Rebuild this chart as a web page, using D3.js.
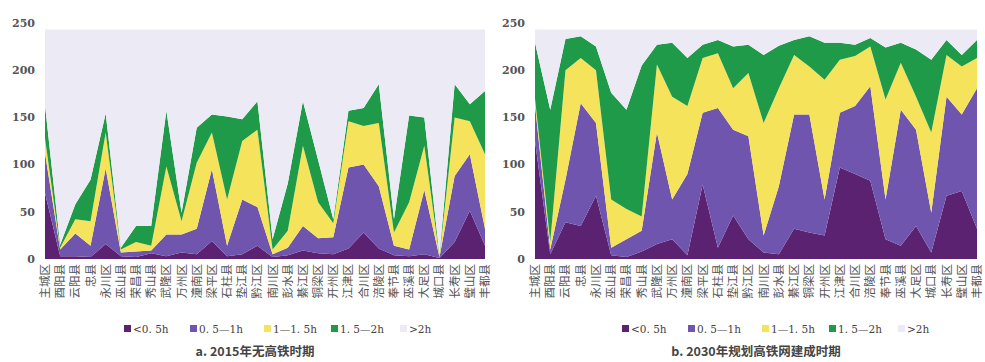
<!DOCTYPE html>
<html>
<head>
<meta charset="utf-8">
<script src="https://cdn.jsdelivr.net/npm/d3@7/dist/d3.min.js"></script>
<style>
  body { margin: 0; background: #fff; }
  svg { display: block; }
</style>
</head>
<body>
<svg id="chart" width="985" height="362"></svg>
<script>
const districts = [
  '主城区', '酉阳县', '云阳县', '忠县', '永川区', '巫山县', '荣昌县', '秀山县',
  '武隆区', '万州区', '潼南区', '梁平区', '石柱县', '垫江县', '黔江区', '南川区',
  '彭水县', '綦江区', '铜梁区', '开州区', '江津区', '合川区', '涪陵区', '奉节县',
  '巫溪县', '大足区', '城口县', '长寿区', '璧山区', '丰都县'
];
const seriesKeys = ['<0.5h', '0.5-1h', '1-1.5h', '1.5-2h', '>2h'];
const legendLabels = ['<0. 5h', '0. 5—1h', '1—1. 5h', '1. 5—2h', '>2h'];
const colors = ['#5c2272', '#6f55ad', '#f6e35c', '#1f9a48', '#ecebf5'];
const yTicks = [0, 50, 100, 150, 200, 250];

// a. 2015, no high speed rail
const a_lt05 = [70, 3, 3, 2, 16, 3, 2, 6, 3, 7, 5, 19, 3, 5, 14, 2, 4, 9, 6, 5, 11, 28, 11, 4, 3, 5, 1, 18, 51, 14];
const a_05_1 = [42, 7, 24, 12, 80, 4, 6, 3, 23, 19, 27, 76, 11, 58, 41, 3, 8, 26, 16, 18, 86, 72, 66, 10, 7, 68, 1, 70, 60, 18];
const a_1_15 = [16, 2, 15, 26, 38, 3, 10, 5, 72, 14, 70, 39, 49, 62, 82, 5, 18, 85, 38, 15, 49, 41, 67, 14, 50, 47, 1, 62, 35, 79];
const a_15_2 = [35, 3, 16, 44, 20, 2, 17, 21, 59, 9, 37, 19, 88, 23, 30, 11, 50, 47, 45, 4, 11, 19, 41, 14, 92, 30, 1, 35, 18, 67];
const a_gt2 = [80, 228, 185, 159, 89, 231, 208, 208, 86, 194, 104, 90, 92, 95, 76, 222, 163, 76, 138, 201, 86, 83, 58, 201, 91, 93, 239, 58, 79, 65];

// b. 2030, planned network built
const b_lt05 = [125, 5, 39, 35, 67, 4, 2, 8, 16, 21, 4, 79, 12, 46, 21, 7, 5, 32, 28, 25, 97, 90, 83, 21, 14, 35, 7, 67, 72, 32];
const b_05_1 = [38, 5, 45, 130, 77, 8, 19, 22, 118, 42, 86, 76, 148, 91, 109, 18, 72, 121, 125, 38, 58, 72, 100, 42, 144, 102, 42, 105, 81, 149];
const b_1_15 = [7, 8, 116, 48, 56, 51, 32, 15, 72, 109, 72, 58, 58, 44, 67, 119, 104, 63, 51, 127, 56, 53, 42, 106, 50, 35, 85, 44, 51, 32];
const b_15_2 = [59, 140, 33, 23, 25, 113, 105, 160, 21, 57, 51, 14, 14, 44, 30, 72, 45, 16, 32, 39, 18, 12, 9, 55, 21, 50, 77, 16, 12, 19];
const b_gt2 = [14, 85, 10, 7, 18, 67, 85, 38, 16, 14, 30, 16, 11, 18, 16, 27, 17, 11, 7, 14, 14, 16, 9, 19, 14, 21, 32, 11, 27, 11];

function buildRows(cols) {
  return districts.map((name, i) => {
    const row = { name };
    seriesKeys.forEach((k, j) => (row[k] = cols[j][i]));
    return row;
  });
}

const svg = d3.select('#chart');

const y = d3.scaleLinear().domain([0, 250]).range([259, 23]);

function drawPanel(opts) {
  const g = svg.append('g');
  const x = d3.scalePoint().domain(districts).range([opts.left, opts.right]);

  const stacked = d3.stack().keys(seriesKeys)(opts.rows);

  const area = d3
    .area()
    .x((d) => x(d.data.name))
    .y0((d) => y(d[0]))
    .y1((d) => y(d[1]));

  g.append('g')
    .selectAll('path')
    .data(stacked)
    .join('path')
    .attr('fill', (d, i) => colors[i])
    .attr('d', area);

  // y tick labels only, no axis line
  g.append('g')
    .selectAll('text')
    .data(yTicks)
    .join('text')
    .attr('x', opts.left - 10)
    .attr('y', (d) => y(d))
    .attr('dy', '0.35em')
    .attr('text-anchor', 'end')
    .attr('font-family', 'DejaVu Serif, serif')
    .attr('font-weight', 'bold')
    .attr('font-size', '11px')
    .attr('fill', '#555')
    .text((d) => d);

  // district names, rotated
  g.append('g')
    .selectAll('text')
    .data(districts)
    .join('text')
    .attr('transform', (d) => `translate(${x(d) + 4},264) rotate(-90)`)
    .attr('text-anchor', 'end')
    .attr('font-family', 'Noto Sans CJK SC')
    .attr('font-size', '11.5px')
    .attr('fill', '#555')
    .text((d) => d);

  // legend
  const offsets = [0, 66, 140, 207, 276];
  const leg = g
    .append('g')
    .selectAll('g')
    .data(seriesKeys)
    .join('g')
    .attr('transform', (d, i) => `translate(${opts.legendX + offsets[i]},329)`);
  leg
    .append('rect')
    .attr('x', 0)
    .attr('y', -4)
    .attr('width', 7)
    .attr('height', 7)
    .attr('fill', (d, i) => colors[i]);
  leg
    .append('text')
    .attr('x', 9)
    .attr('y', 0)
    .attr('dy', '0.35em')
    .attr('font-family', 'DejaVu Serif, serif')
    .attr('font-size', '10.5px')
    .attr('fill', '#444')
    .text((d, i) => legendLabels[i]);

  g.append('text')
    .attr('x', opts.titleX)
    .attr('y', 356)
    .attr('text-anchor', 'middle')
    .attr('font-family', 'Noto Sans CJK SC')
    .attr('font-weight', 'bold')
    .attr('font-size', '12.5px')
    .attr('fill', '#444')
    .text(opts.title);
}

drawPanel({
  rows: buildRows([a_lt05, a_05_1, a_1_15, a_15_2, a_gt2]),
  left: 45,
  right: 485,
  legendX: 124,
  titleX: 255,
  title: 'a. 2015年无高铁时期',
});

drawPanel({
  rows: buildRows([b_lt05, b_05_1, b_1_15, b_15_2, b_gt2]),
  left: 535,
  right: 977,
  legendX: 622,
  titleX: 756,
  title: 'b. 2030年规划高铁网建成时期',
});
</script>
</body>
</html>
